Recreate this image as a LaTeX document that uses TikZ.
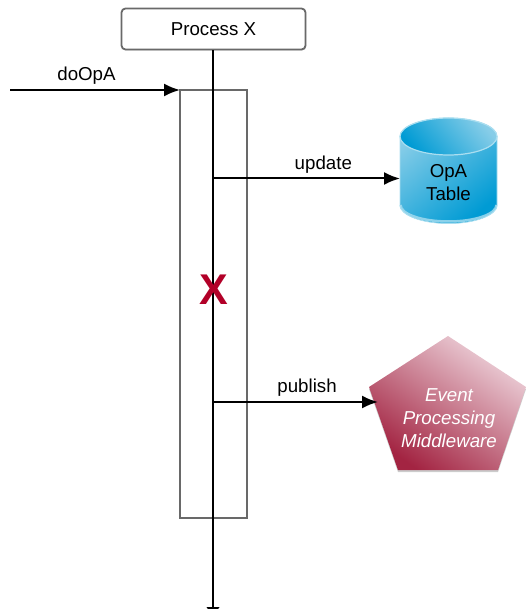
\documentclass[tikz,border=0pt]{standalone}
\usepackage{fontspec}
\setmainfont{Liberation Sans}
\usepackage{xcolor}
\usetikzlibrary{arrows.meta,shadows,positioning}
\definecolor{boxgrey}{RGB}{105,105,105}
\definecolor{cylLight}{RGB}{135,205,232}
\definecolor{cylDark}{RGB}{0,155,212}
\definecolor{cylRim}{RGB}{170,222,240}
\definecolor{pentLight}{RGB}{238,212,220}
\definecolor{pentDark}{RGB}{163,36,66}
\definecolor{stopRed}{RGB}{178,0,40}

\begin{document}
\begin{tikzpicture}[
        x=1pt, y=-1pt,
        every node/.style={font=\fontsize{18.7}{23}\selectfont, align=center},
        procbox/.style={rectangle, draw=boxgrey, line width=1.8pt, fill=white, rounded corners=4pt,
                        minimum width=184pt, minimum height=41pt,
                        drop shadow={shadow xshift=0.5pt, shadow yshift=-1pt, opacity=.25, fill=black}},
        activation/.style={rectangle, draw=boxgrey, line width=2pt, outer sep=0pt, minimum width=67pt, minimum height=428pt,
                        drop shadow={shadow xshift=0.5pt, shadow yshift=-1pt, opacity=.25, fill=black}, fill=white},
        line/.style={draw, line width=2pt, -{Latex[length=16pt,width=13pt]}},
        spine/.style={draw, line width=2pt, -{Latex[length=11pt,width=14pt]}},
        tablebody/.style={draw=cylRim, line width=.8pt, top color=cylLight, bottom color=cylDark, shading angle=40},
        tabletop/.style={draw=cylRim, line width=1.2pt, top color=cylLight, bottom color=cylDark, shading angle=-50},
        pentshape/.style={draw=none, top color=pentLight, bottom color=pentDark, shading angle=-35}
    ]
    \useasboundingbox (0,0) rectangle (526,609);
    \clip (0,0) rectangle (526,609);

    \node [activation] (act) at (213.5,304) {};
    \node [procbox] (procx) at (213.5,29) {Process X};

    % Table
    \path [tablebody] (400,136.5) -- (400,205) arc [start angle=180, end angle=0, x radius=48.5, y radius=18.5]
        -- (497,136.5) arc [start angle=0, end angle=-180, x radius=48.5, y radius=18.5] -- cycle;
    \path [tabletop] (448.5,136.5) ellipse [x radius=48.5, y radius=18.5];
    \draw [cylRim, line width=2.5pt, opacity=.8] (400.5,205) arc [start angle=180, end angle=0, x radius=48, y radius=16.5];
    \node [minimum width=97pt, outer sep=0pt, inner sep=0pt] (opa) at (448.5,182.5) {OpA\\Table};

    % Middleware
    \coordinate (p1) at (448,336);
    \coordinate (p2) at (526,387);
    \coordinate (p3) at (498,470);
    \coordinate (p4) at (398,470);
    \coordinate (p5) at (369,387);
    \fill [black, opacity=.2] ([yshift=-2pt]p2) -- ([yshift=-2pt]p3) -- ([yshift=-2pt]p4) -- ([yshift=-2pt]p5) -- cycle;
    \path [pentshape] (p1) -- (p2) -- (p3) -- (p4) -- (p5) -- cycle;
    \node [text=white, font=\fontsize{18.7}{23}\selectfont\itshape] (evt) at (449,418) {Event\\Processing\\Middleware};

    % Lifeline and messages
    \coordinate (caller) at (10,90);
    \coordinate (lifeEnd) at (213,618);
    \coordinate (updFrom) at (213,178.5);
    \coordinate (pubFrom) at (213,402);
    \coordinate (pubTo) at (378,402);

    \draw [spine] (procx.south -| lifeEnd) -- (lifeEnd);
    \draw [line] (caller) -- node[pos=.45, above=1pt] (opLabel) {doOpA} (act.north west);
    \draw [line] (updFrom) -- node[pos=.59, above=1pt] (updLabel) {update} (updFrom -| opa.west);
    \draw [line] (pubFrom) -- node[pos=.57, above=1pt] (pubLabel) {publish} (pubTo);

    \node [text=stopRed, font=\fontsize{43}{43}\selectfont\bfseries] (stopx) at (214,290) {X};
\end{tikzpicture}
\end{document}
